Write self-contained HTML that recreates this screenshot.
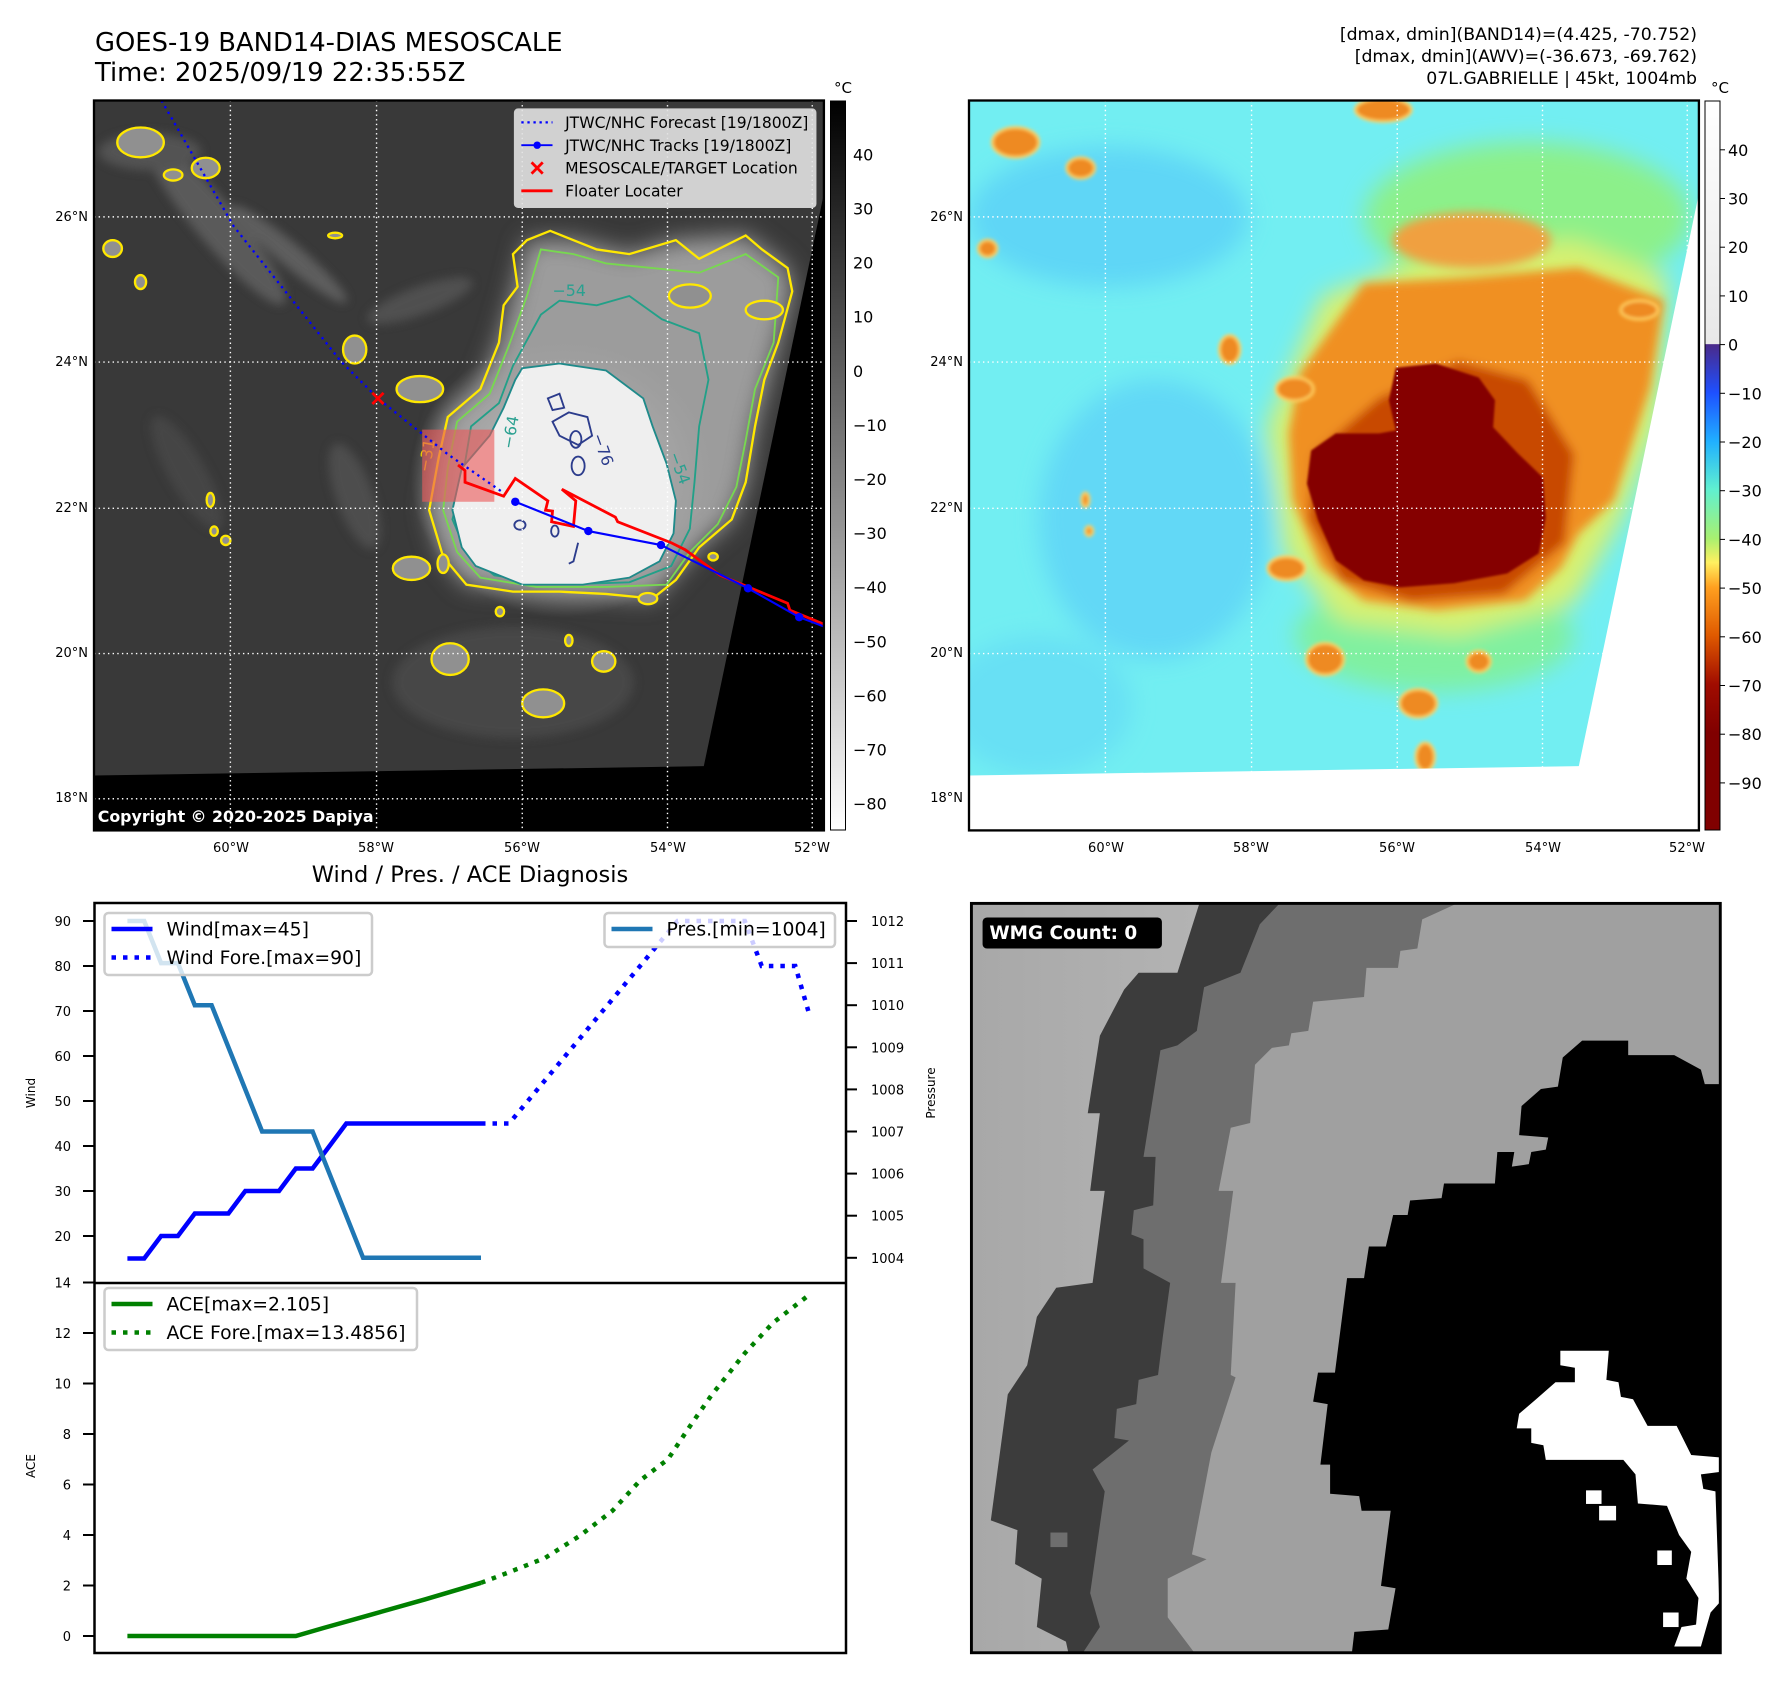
<!DOCTYPE html>
<html><head><meta charset="utf-8"><style>
html,body{margin:0;padding:0;background:#fff;}
svg{display:block;font-family:"DejaVu Sans","Liberation Sans",sans-serif;}
</style></head><body>
<svg id="root" width="1788" height="1690" viewBox="0 0 1788 1690" xmlns="http://www.w3.org/2000/svg">
<defs>
  <filter id="b2" x="-20%" y="-20%" width="140%" height="140%"><feGaussianBlur stdDeviation="2.5"/></filter>
  <filter id="b4" x="-20%" y="-20%" width="140%" height="140%"><feGaussianBlur stdDeviation="4"/></filter>
  <filter id="b10" x="-30%" y="-30%" width="160%" height="160%"><feGaussianBlur stdDeviation="10"/></filter>
  <filter id="b25" x="-40%" y="-40%" width="180%" height="180%"><feGaussianBlur stdDeviation="25"/></filter>
  <clipPath id="clipMap"><rect x="0" y="0" width="1568" height="1568"/></clipPath>
  <linearGradient id="cbGray" x1="0" y1="0" x2="0" y2="1">
    <stop offset="0" stop-color="#000"/><stop offset="1" stop-color="#fff"/>
  </linearGradient>
  <linearGradient id="cbAwv" x1="0" y1="0" x2="0" y2="1">
    <stop offset="0" stop-color="#ffffff"/>
    <stop offset="0.333" stop-color="#e8e8e8"/>
    <stop offset="0.334" stop-color="#4a2a8a"/>
    <stop offset="0.40" stop-color="#1e50ff"/>
    <stop offset="0.467" stop-color="#20b0ff"/>
    <stop offset="0.533" stop-color="#60f0d0"/>
    <stop offset="0.60" stop-color="#a8f070"/>
    <stop offset="0.633" stop-color="#fff060"/>
    <stop offset="0.667" stop-color="#ffa020"/>
    <stop offset="0.733" stop-color="#e05a00"/>
    <stop offset="0.80" stop-color="#a00c00"/>
    <stop offset="0.867" stop-color="#800000"/>
    <stop offset="1" stop-color="#800000"/>
  </linearGradient>
  <linearGradient id="wmgLeft" x1="0" y1="0" x2="1" y2="0">
    <stop offset="0" stop-color="#a8a8a8"/><stop offset="1" stop-color="#cdcdcd"/>
  </linearGradient>
  <radialGradient id="haloL" cx="0.5" cy="0.5" r="0.5">
    <stop offset="0" stop-color="#d8d8d8"/><stop offset="0.6" stop-color="#a8a8a8"/><stop offset="1" stop-color="#a0a0a0" stop-opacity="0"/>
  </radialGradient>
</defs>

<!-- Titles -->
<text x="95" y="51" font-size="25.8" fill="#000">GOES-19 BAND14-DIAS MESOSCALE</text>
<text x="95" y="81" font-size="25.8" fill="#000">Time: 2025/09/19 22:35:55Z</text>
<g font-size="17.3" text-anchor="end" fill="#000">
  <text x="1697" y="40">[dmax, dmin](BAND14)=(4.425, -70.752)</text>
  <text x="1697" y="62">[dmax, dmin](AWV)=(-36.673, -69.762)</text>
  <text x="1697" y="84">07L.GABRIELLE | 45kt, 1004mb</text>
</g>

<!-- LEFT MAP -->
<g transform="translate(94,100.5) scale(0.4655)">
 <g clip-path="url(#clipMap)">
  <rect x="0" y="0" width="1568" height="1568" fill="#393939"/>
  <g filter="url(#b10)" opacity="0.8">
    <ellipse cx="260" cy="260" rx="230" ry="45" transform="rotate(50 260 260)" fill="#646464"/>
    <ellipse cx="420" cy="330" rx="160" ry="25" transform="rotate(40 420 330)" fill="#686868"/>
    <ellipse cx="120" cy="110" rx="110" ry="40" fill="#5a5a5a"/>
    <ellipse cx="700" cy="430" rx="120" ry="30" transform="rotate(-20 700 430)" fill="#575757"/>
    <ellipse cx="560" cy="850" rx="120" ry="40" transform="rotate(70 560 850)" fill="#525252"/>
    <ellipse cx="900" cy="1250" rx="260" ry="120" fill="#4c4c4c"/>
    <ellipse cx="200" cy="800" rx="140" ry="40" transform="rotate(60 200 800)" fill="#484848"/>
  </g>
  <g filter="url(#b25)">
    <path d="M740,770 L760,680 L830,620 L870,520 L900,420 L930,300 L1030,300 L1150,330 L1250,300 L1400,290 L1490,360 L1500,410 L1470,520 L1420,700 L1400,820 L1370,900 L1300,960 L1200,1070 L1000,1055 L800,1040 L750,980 L720,880 Z" fill="#9c9c9c"/>
  </g>
  <ellipse cx="1010" cy="810" rx="330" ry="300" fill="url(#haloL)"/>
  <path d="M740,770 L760,680 L830,620 L870,520 L880,440 L910,400 L900,330 L930,300 L980,280 L1030,300 L1080,320 L1150,330 L1250,300 L1300,340 L1400,290 L1435,320 L1490,360 L1500,410 L1470,520 L1440,600 L1420,700 L1400,820 L1370,900 L1300,960 L1250,1030 L1200,1070 L1100,1060 L1000,1055 L900,1055 L800,1040 L750,980 L720,880 Z" fill="none" stroke="#ffe800" stroke-width="5"/>
  <path d="M760,790 L780,690 L850,630 L890,530 L930,420 L960,320 L1030,330 L1100,350 L1200,360 L1300,370 L1400,330 L1470,380 L1460,520 L1420,620 L1400,730 L1380,830 L1340,910 L1280,970 L1230,1040 L1100,1045 L950,1045 L830,1025 L780,970 L750,880 Z" fill="none" stroke="#78d850" stroke-width="4"/>
  <path d="M790,820 L810,700 L870,650 L900,570 L960,460 L1000,430 L1080,440 L1150,420 L1220,470 L1300,500 L1320,600 L1300,700 L1290,820 L1280,920 L1240,1000 L1150,1035 L1000,1040 L860,1020 L800,970 L770,900 Z" fill="none" stroke="#22a088" stroke-width="4"/>
  <path d="M920,575 L1000,565 L1100,580 L1180,640 L1200,700 L1230,780 L1250,860 L1245,930 L1215,990 L1150,1025 L1050,1040 L920,1040 L820,1000 L790,960 L770,880 L790,790 L850,720 L880,660 L905,600 Z" fill="#efefef" stroke="#1f8a8a" stroke-width="4"/>
  <g fill="none" stroke="#2c3c8c" stroke-width="4">
    <path d="M975,640 L1000,630 L1010,660 L985,665 Z"/>
    <path d="M985,690 L1020,670 L1060,680 L1070,720 L1040,740 L1000,720 Z"/>
    <ellipse cx="1035" cy="728" rx="12" ry="18"/>
    <ellipse cx="1040" cy="785" rx="14" ry="20"/>
    <ellipse cx="915" cy="912" rx="12" ry="10"/>
    <ellipse cx="990" cy="925" rx="8" ry="12"/>
    <path d="M1040,950 L1030,990 L1020,995"/>
  </g>
  <g font-size="34" fill="#2aa090"><text x="985" y="420">−54</text><text x="1235" y="760" transform="rotate(70 1235 760)">−54</text><text x="900" y="750" transform="rotate(-80 900 750)">−64</text><text x="720" y="800" transform="rotate(-80 720 800)" fill="#e8d000">−31</text></g>
  <text x="1070" y="720" font-size="34" fill="#2c3c8c" transform="rotate(70 1070 720)">−76</text>
  <g fill="#909090" stroke="#ffe800" stroke-width="5">
    <ellipse cx="100" cy="90" rx="50" ry="32"/><ellipse cx="240" cy="145" rx="30" ry="22"/>
    <ellipse cx="170" cy="160" rx="20" ry="12"/><ellipse cx="40" cy="318" rx="20" ry="18"/>
    <ellipse cx="100" cy="390" rx="12" ry="15"/><ellipse cx="518" cy="290" rx="15" ry="6"/>
    <ellipse cx="560" cy="535" rx="25" ry="30"/><ellipse cx="700" cy="620" rx="50" ry="28"/>
    <ellipse cx="682" cy="1005" rx="40" ry="25"/><ellipse cx="750" cy="995" rx="12" ry="20"/>
    <ellipse cx="765" cy="1200" rx="40" ry="34"/><ellipse cx="1095" cy="1205" rx="25" ry="22"/>
    <ellipse cx="965" cy="1295" rx="45" ry="30"/><ellipse cx="872" cy="1098" rx="9" ry="10"/>
    <ellipse cx="250" cy="858" rx="8" ry="15"/><ellipse cx="258" cy="925" rx="8" ry="10"/>
    <ellipse cx="283" cy="945" rx="10" ry="10"/><ellipse cx="1020" cy="1160" rx="8" ry="12"/>
    <ellipse cx="1190" cy="1070" rx="20" ry="12"/><ellipse cx="1280" cy="420" rx="45" ry="25"/>
    <ellipse cx="1440" cy="450" rx="40" ry="20"/><ellipse cx="1330" cy="980" rx="10" ry="8"/>
  </g>
  <polygon points="0,1450 1310,1430 1568,200 1568,1568 0,1568" fill="#000"/>
  <g stroke="#fff" stroke-width="3" stroke-dasharray="3 7">
    <line x1="293" y1="0" x2="293" y2="1568"/><line x1="607" y1="0" x2="607" y2="1568"/>
    <line x1="920" y1="0" x2="920" y2="1568"/><line x1="1232" y1="0" x2="1232" y2="1568"/>
    <line x1="1543" y1="0" x2="1543" y2="1568"/>
    <line x1="0" y1="250" x2="1568" y2="250"/><line x1="0" y1="562" x2="1568" y2="562"/>
    <line x1="0" y1="876" x2="1568" y2="876"/><line x1="0" y1="1188" x2="1568" y2="1188"/>
    <line x1="0" y1="1500" x2="1568" y2="1500"/>
  </g>
  <rect x="705" y="707" width="155" height="155" fill="rgb(235,90,90)" fill-opacity="0.62"/>
  <polyline points="145,0 300,270 530,560 610,640 760,760 890,850" fill="none" stroke="#0000ff" stroke-width="5" stroke-dasharray="5 9"/>
  <polyline points="782,783 797,795 797,820 880,850 905,812 975,860 970,880 985,882 983,905 1030,915 1035,860 1005,835 1120,895 1125,905 1240,950 1270,965 1345,1020 1490,1080 1495,1095 1568,1125" fill="none" stroke="#ff0000" stroke-width="6"/>
  <polyline points="905,862 1062,925 1218,955 1405,1048 1515,1110 1568,1130" fill="none" stroke="#0000ff" stroke-width="4.5"/>
  <g fill="#0000ff"><circle cx="905" cy="862" r="9"/><circle cx="1062" cy="925" r="9"/><circle cx="1218" cy="955" r="9"/><circle cx="1405" cy="1048" r="9"/><circle cx="1515" cy="1110" r="9"/></g>
  <path d="M598,628 L622,652 M622,628 L598,652" stroke="#ff0000" stroke-width="6"/>
  <g>
    <rect x="903" y="18" width="648" height="212" rx="8" fill="#e2e2e2" fill-opacity="0.9" stroke="#cfcfcf" stroke-width="2"/>
    <line x1="918" y1="47" x2="985" y2="47" stroke="#0000ff" stroke-width="5" stroke-dasharray="5 8"/>
    <line x1="918" y1="96" x2="985" y2="96" stroke="#0000ff" stroke-width="4"/><circle cx="952" cy="96" r="8" fill="#0000ff"/>
    <path d="M940,133 L964,157 M964,133 L940,157" stroke="#ff0000" stroke-width="6"/>
    <line x1="918" y1="194" x2="985" y2="194" stroke="#ff0000" stroke-width="6"/>
    <g font-size="33.5" fill="#000">
      <text x="1012" y="59">JTWC/NHC Forecast [19/1800Z]</text>
      <text x="1012" y="108">JTWC/NHC Tracks [19/1800Z]</text>
      <text x="1012" y="157">MESOSCALE/TARGET Location</text>
      <text x="1012" y="206">Floater Locater</text>
    </g>
  </g>
  <text x="8" y="1550" font-size="34" font-weight="bold" fill="#fff">Copyright © 2020-2025 Dapiya</text>
 </g>
 <rect x="0" y="0" width="1568" height="1568" fill="none" stroke="#000" stroke-width="5"/>
</g>

<!-- RIGHT MAP -->
<g transform="translate(969,100.5) scale(0.4655)">
 <g clip-path="url(#clipMap)">
  <rect x="0" y="0" width="1568" height="1568" fill="#72eef2"/>
  <g filter="url(#b25)">
    <ellipse cx="300" cy="250" rx="300" ry="150" fill="#5fd6f6"/>
    <ellipse cx="400" cy="900" rx="250" ry="300" fill="#62d8f6"/>
    <ellipse cx="150" cy="1300" rx="200" ry="150" fill="#68e0f4"/>
    <ellipse cx="1200" cy="250" rx="350" ry="160" fill="#8cf08a"/>
    <ellipse cx="1000" cy="1150" rx="300" ry="120" fill="#80f0a0"/>
    <path d="M640,700 L760,420 L1000,330 L1300,300 L1500,380 L1480,700 L1400,900 L1300,1080 L1050,1150 L800,1120 L680,980 Z" fill="#d8f070"/>
  </g>
  <g filter="url(#b10)">
    <path d="M711,586 L848,393 L1078,380 L1310,359 L1493,430 L1463,616 L1385,859 L1310,930 L1272,1003 L1194,1074 L1003,1095 L848,1074 L756,1003 L696,859 L687,715 Z" fill="#f09020"/>
    <ellipse cx="1080" cy="300" rx="170" ry="60" fill="#f0a040"/>
    <path d="M740,760 L880,640 L1050,560 L1200,600 L1300,760 L1280,950 L1150,1060 L950,1075 L800,1030 L730,900 Z" fill="#c84a00"/>
  </g>
  <path d="M917,574 L1003,565 L1095,595 L1130,644 L1126,702 L1179,758 L1233,810 L1239,896 L1224,973 L1156,1016 L1042,1037 L926,1046 L848,1031 L788,988 L750,902 L726,823 L735,752 L788,715 L881,715 L917,709 L902,644 Z" fill="#850000" filter="url(#b2)"/>
  <g fill="#ee8a20" stroke="#ffd060" stroke-width="6" filter="url(#b4)">
    <ellipse cx="100" cy="90" rx="50" ry="32"/><ellipse cx="240" cy="145" rx="30" ry="22"/>
    <ellipse cx="40" cy="318" rx="20" ry="18"/><ellipse cx="560" cy="535" rx="22" ry="30"/>
    <ellipse cx="700" cy="620" rx="40" ry="25"/><ellipse cx="682" cy="1005" rx="40" ry="25"/>
    <ellipse cx="765" cy="1200" rx="40" ry="34"/><ellipse cx="1095" cy="1205" rx="25" ry="22"/>
    <ellipse cx="965" cy="1295" rx="40" ry="30"/><ellipse cx="980" cy="1410" rx="20" ry="30"/>
    <ellipse cx="250" cy="858" rx="8" ry="15"/><ellipse cx="258" cy="925" rx="8" ry="10"/>
    <ellipse cx="890" cy="20" rx="60" ry="25"/><ellipse cx="1440" cy="450" rx="40" ry="20"/>
  </g>
  <polygon points="0,1450 1310,1430 1568,200 1568,1568 0,1568" fill="#fff"/>
  <g stroke="#fff" stroke-width="3" stroke-dasharray="3 7">
    <line x1="293" y1="0" x2="293" y2="1568"/><line x1="607" y1="0" x2="607" y2="1568"/>
    <line x1="920" y1="0" x2="920" y2="1568"/><line x1="1232" y1="0" x2="1232" y2="1568"/>
    <line x1="1543" y1="0" x2="1543" y2="1568"/>
    <line x1="0" y1="250" x2="1568" y2="250"/><line x1="0" y1="562" x2="1568" y2="562"/>
    <line x1="0" y1="876" x2="1568" y2="876"/><line x1="0" y1="1188" x2="1568" y2="1188"/>
    <line x1="0" y1="1500" x2="1568" y2="1500"/>
  </g>
 </g>
 <rect x="0" y="0" width="1568" height="1568" fill="none" stroke="#000" stroke-width="5"/>
</g>

<g font-size="13" fill="#000" text-anchor="end">
  <text x="88" y="221">26°N</text><text x="88" y="366">24°N</text><text x="88" y="512">22°N</text><text x="88" y="657">20°N</text><text x="88" y="802">18°N</text>
</g>
<g font-size="13" fill="#000" text-anchor="end">
  <text x="963" y="221">26°N</text><text x="963" y="366">24°N</text><text x="963" y="512">22°N</text><text x="963" y="657">20°N</text><text x="963" y="802">18°N</text>
</g>
<g font-size="13" fill="#000" text-anchor="middle">
  <text x="231" y="852">60°W</text><text x="376" y="852">58°W</text><text x="522" y="852">56°W</text><text x="668" y="852">54°W</text><text x="812" y="852">52°W</text>
</g>
<g font-size="13" fill="#000" text-anchor="middle">
  <text x="1106" y="852">60°W</text><text x="1251" y="852">58°W</text><text x="1397" y="852">56°W</text><text x="1543" y="852">54°W</text><text x="1687" y="852">52°W</text>
</g>

<rect x="830.5" y="101" width="15" height="729" fill="url(#cbGray)" stroke="#000" stroke-width="1"/>
<text x="843" y="93" font-size="15" text-anchor="middle">°C</text>
<g id="cbLeftTicks" font-size="16" fill="#000"></g>
<rect x="1705" y="101" width="15" height="729" fill="url(#cbAwv)" stroke="#000" stroke-width="1"/>
<text x="1720" y="93" font-size="15" text-anchor="middle">°C</text>
<g id="cbRightTicks" font-size="16" fill="#000"></g>

<g transform="translate(969,900) scale(0.4847)">
  <rect x="5" y="7" width="1545" height="1546" fill="url(#wmgLeft)"/>
  <polygon points="475,8 430,150 350,150 320,185 270,280 245,440 270,440 250,600 280,600 255,790 180,800 140,860 120,960 80,1020 45,1280 100,1300 95,1370 150,1400 140,1500 200,1530 205,1553 1550,1553 1550,8" fill="#3c3c3c"/>
  <polygon points="640,8 600,50 560,150 485,180 470,270 430,300 395,310 360,530 385,530 380,630 340,640 335,690 360,700 360,760 415,790 400,900 390,980 350,990 345,1040 305,1050 300,1110 330,1115 255,1175 280,1220 250,1430 270,1500 235,1553 1550,1553 1550,8" fill="#6e6e6e"/>
  <rect x="168" y="1305" width="35" height="30" fill="#6e6e6e"/>
  <polygon points="1005,8 935,40 925,100 890,105 885,140 820,140 815,200 710,210 700,270 665,275 660,300 625,305 590,340 580,460 540,470 515,600 545,600 520,790 550,790 540,980 550,985 500,1140 460,1350 490,1360 410,1400 410,1480 465,1553 1550,1553 1550,8" fill="#a0a0a0"/>
  <polygon points="1550,380 1518,380 1510,350 1455,320 1360,320 1360,290 1265,290 1225,325 1215,385 1180,390 1140,425 1135,485 1195,490 1190,515 1160,520 1155,545 1120,550 1125,520 1090,520 1085,585 980,585 975,615 910,620 905,650 875,650 860,715 825,715 815,780 780,780 755,975 720,975 710,1035 740,1040 725,1165 745,1165 745,1225 805,1230 810,1260 870,1260 850,1415 880,1420 865,1505 795,1510 790,1553 1550,1553" fill="#000"/>
  <polygon points="1220,930 1320,930 1315,990 1340,995 1345,1025 1370,1030 1400,1085 1460,1085 1490,1145 1548,1150 1548,1180 1510,1185 1515,1215 1540,1220 1548,1450 1530,1470 1510,1540 1455,1540 1470,1500 1500,1495 1505,1440 1480,1400 1490,1345 1465,1310 1440,1250 1380,1245 1375,1185 1350,1155 1190,1155 1185,1125 1160,1120 1160,1090 1130,1090 1135,1060 1170,1030 1210,995 1250,995 1250,965 1220,960" fill="#fff"/>
  <g fill="#fff"><rect x="1273" y="1218" width="32" height="28"/><rect x="1300" y="1250" width="35" height="30"/><rect x="1420" y="1342" width="30" height="30"/><rect x="1432" y="1470" width="32" height="30"/></g>
  <rect x="5" y="7" width="1545" height="1546" fill="none" stroke="#000" stroke-width="6"/>
  <rect x="28" y="36" width="370" height="64" rx="9" fill="#000"/>
  <text x="42" y="80" font-size="38" font-weight="bold" fill="#fff">WMG Count: 0</text>
</g>

<text x="470" y="882" font-size="22.5" text-anchor="middle">Wind / Pres. / ACE Diagnosis</text>
<g id="chart"></g>
</svg>

<script>
const obsHours = [0,3,6,9,12,15,18,21,24,27,30,33,36,39,42,45,48,51,54,57,60,63];
const windObs = [15,15,20,20,25,25,25,30,30,30,35,35,40,45,45,45,45,45,45,45,45,45];
const presHours = [0,3,6,9,12,15,24,33,42,63];
const presObs = [1012,1012,1011,1011,1010,1010,1007,1007,1004,1004];
const foreHours = [63,68,98,110,113,119,121.3];
const windFore = [45,45,90,90,80,80,70];
const aceHours = [0,30,35,43,53,63];
const aceObs = [0,0,0.32,0.82,1.45,2.105];
const aceForeHours = [63,67.6,74.4,80.6,86.4,91.3,96.3,100.5,104,110,115,121.3];
const aceFore = [2.105,2.49,3.09,3.97,4.96,6.15,7.0,8.4,9.52,11.2,12.4,13.4856];
const windTicks = [20,30,40,50,60,70,80,90];
const presTicks = [1004,1005,1006,1007,1008,1009,1010,1011,1012];
const aceTicks = [0,2,4,6,8,10,12,14];
const cbLeftTicks = [40,30,20,10,0,-10,-20,-30,-40,-50,-60,-70,-80];
const cbRightTicks = [40,30,20,10,0,-10,-20,-30,-40,-50,-60,-70,-80,-90];

const NS='http://www.w3.org/2000/svg';
const AX={l:94.5,r:846,top:903,mid:1283,bot:1653};
const X=t=>127.4+t*5.613;
const Yw=v=>921+(90-v)*4.5;
const Yp=p=>921+(1012-p)*42.1;
const Ya=a=>1636-a*25.25;
function mk(tag,attrs,parent){const e=document.createElementNS(NS,tag);for(const k in attrs)e.setAttribute(k,attrs[k]);(parent||chart).appendChild(e);return e;}
const chart=document.getElementById('chart');
function pts(xs,ys,fy){return xs.map((t,i)=>X(t).toFixed(1)+','+fy(ys[i]).toFixed(1)).join(' ');}

let e;
e=mk('rect',{x:AX.l,y:AX.top,width:AX.r-AX.l,height:AX.bot-AX.top,fill:'#fff'});



windTicks.forEach(v=>{const y=Yw(v);mk('line',{x1:83,x2:AX.l,y1:y,y2:y,stroke:'#000','stroke-width':2});
 e=mk('text',{x:71,y:y+5,'font-size':13,'text-anchor':'end'});e.textContent=v;
 
 });
presTicks.forEach(v=>{const y=Yp(v);mk('line',{x1:AX.r,x2:857,y1:y,y2:y,stroke:'#000','stroke-width':2});
 e=mk('text',{x:871,y:y+5,'font-size':13});e.textContent=v;
 
 });
aceTicks.forEach(v=>{const y=Ya(v);mk('line',{x1:83,x2:AX.l,y1:y,y2:y,stroke:'#000','stroke-width':2});
 e=mk('text',{x:71,y:y+5,'font-size':13,'text-anchor':'end'});e.textContent=v;
 
 });

e=mk('text',{x:0,y:0,'font-size':12,'text-anchor':'middle',transform:'translate(35,1093) rotate(-90)'});e.textContent='Wind';


e=mk('text',{x:0,y:0,'font-size':12,'text-anchor':'middle',transform:'translate(935,1093) rotate(-90)'});e.textContent='Pressure';


e=mk('text',{x:0,y:0,'font-size':12,'text-anchor':'middle',transform:'translate(35,1466) rotate(-90)'});e.textContent='ACE';



e=mk('polyline',{points:pts(foreHours,windFore,Yw),fill:'none',stroke:'#0000ff','stroke-width':4.5,'stroke-dasharray':'4.5 7'});


e=mk('polyline',{points:pts(obsHours,windObs,Yw),fill:'none',stroke:'#0000ff','stroke-width':4.5});


e=mk('polyline',{points:pts(presHours,presObs,Yp),fill:'none',stroke:'#1f77b4','stroke-width':4.5});


e=mk('polyline',{points:pts(aceForeHours,aceFore,Ya),fill:'none',stroke:'#008000','stroke-width':4.5,'stroke-dasharray':'4.5 7'});


e=mk('polyline',{points:pts(aceHours,aceObs,Ya),fill:'none',stroke:'#008000','stroke-width':4.5});



function legend(name,x,y,w,h,items){
 const g=mk('g',{});
 
 
 mk('rect',{x:x,y:y,width:w,height:h,rx:4,fill:'#fff','fill-opacity':0.8,stroke:'#cccccc','stroke-width':2.5},g);
 items.forEach((it,i)=>{const cy=y+16+i*28.5;
  const a={x1:x+7,x2:x+48,y1:cy,y2:cy,stroke:it.c,'stroke-width':4.5};if(it.d)a['stroke-dasharray']='4.5 7';
  mk('line',a,g);
  const t=mk('text',{x:x+62,y:cy+6.5,'font-size':18.8},g);t.textContent=it.t;});
}
legend('wind-legend',104.5,913,267.5,62,[{c:'#0000ff',t:'Wind[max=45]'},{c:'#0000ff',d:1,t:'Wind Fore.[max=90]'}]);
legend('pressure-legend',604.5,913,230.5,34,[{c:'#1f77b4',t:'Pres.[min=1004]'}]);
legend('ace-legend',104.5,1288,312.5,62,[{c:'#008000',t:'ACE[max=2.105]'},{c:'#008000',d:1,t:'ACE Fore.[max=13.4856]'}]);

mk('rect',{x:AX.l,y:AX.top,width:AX.r-AX.l,height:AX.bot-AX.top,fill:'none',stroke:'#000','stroke-width':2.5});
mk('line',{x1:AX.l,x2:AX.r,y1:AX.mid,y2:AX.mid,stroke:'#000','stroke-width':2.5});

const gl=document.getElementById('cbLeftTicks');
cbLeftTicks.forEach(v=>{const y=154.4+(40-v)*5.41;
 e=mk('text',{x:853,y:y+6},gl);e.textContent=(v<0?'\u2212'+(-v):v);
 
 });
const gr=document.getElementById('cbRightTicks');
cbRightTicks.forEach(v=>{const y=149.8+(40-v)*4.87;
 mk('line',{x1:1720,x2:1725,y1:y,y2:y,stroke:'#000','stroke-width':1},gr);
 e=mk('text',{x:1728,y:y+6},gr);e.textContent=(v<0?'\u2212'+(-v):v);
 
 });
</script>
</body></html>
